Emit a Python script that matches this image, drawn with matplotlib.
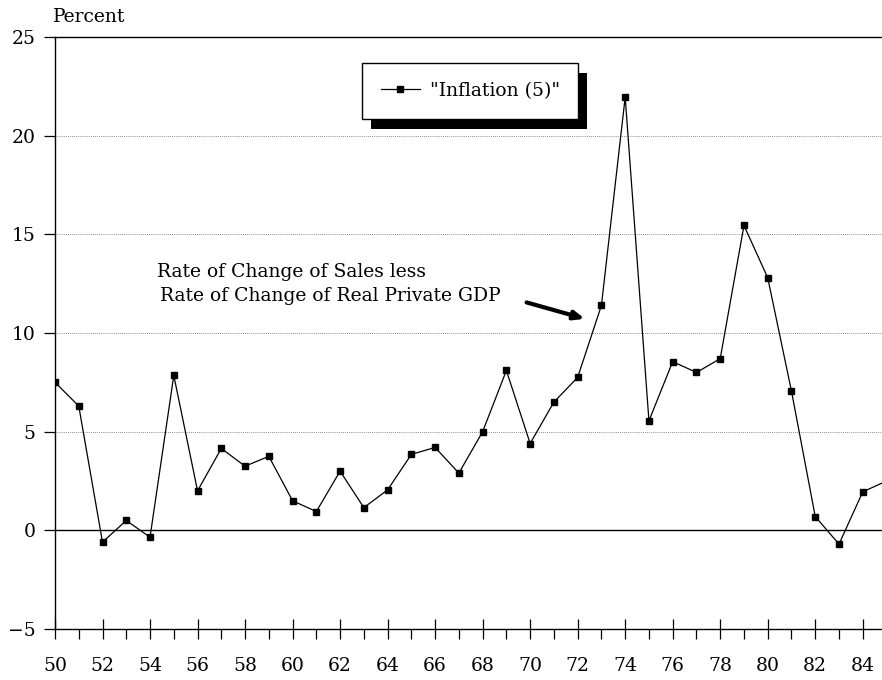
import numpy as np
import matplotlib.pyplot as plt
from matplotlib.patches import Rectangle
from matplotlib.ticker import MultipleLocator

# Inflation (5): rate of change of sales less rate of change of real private GDP
years = np.arange(50, 86)
inflation = [7.5, 6.3, -0.6, 0.5, -0.35, 7.85, 2.0, 4.15, 3.25, 3.75,
             1.5, 0.95, 3.0, 1.15, 2.05, 3.85, 4.2, 2.9, 5.0, 8.1,
             4.4, 6.5, 7.75, 11.4, 21.95, 5.55, 8.55, 8.0, 8.7, 15.45,
             12.8, 7.05, 0.7, -0.7, 1.95, 2.5]

y_ticks = [-5, 0, 5, 10, 15, 20, 25]
x_ticks = list(range(50, 86, 2))
grid_levels = [5, 10, 15, 20]

plt.rcParams['font.family'] = 'DejaVu Serif'
fs = 13.5

fig = plt.figure(figsize=(8.82, 6.8), dpi=100)
ax = fig.add_axes([55 / 882, 51 / 680, 827 / 882, 592 / 680])

# dotted grid + solid zero line
for g in grid_levels:
    ax.axhline(g, color='#666666', lw=0.6, ls=(0, (1, 1.5)), zorder=1)
ax.axhline(0, color='black', lw=1.0, zorder=1)

line, = ax.plot(years, inflation, color='black', lw=0.9, marker='s',
                markersize=4, zorder=3)

ax.set_xlim(50, 84.81)
ax.set_ylim(-5, 25)
ax.set_yticks(y_ticks)
ax.set_yticklabels([str(v).replace('-', '\u2212') for v in y_ticks])
ax.set_xticks(x_ticks)
ax.xaxis.set_minor_locator(MultipleLocator(1))

ax.spines['right'].set_visible(False)
for s in ['left', 'top', 'bottom']:
    ax.spines[s].set_linewidth(1.0)

ax.tick_params(axis='x', which='major', direction='inout', length=14,
               width=0.9, labelsize=fs, pad=13.5)
ax.tick_params(axis='x', which='minor', direction='out', length=7, width=0.9)
ax.tick_params(axis='y', direction='out', length=8, width=0.9,
               labelsize=fs, pad=6)

fig.text(53 / 882, 1 - 17 / 680, 'Percent', fontsize=fs, va='center', ha='left')

ax.text(54.29, 13.07, 'Rate of Change of Sales less', fontsize=fs, va='center')
ax.text(54.42, 11.85, 'Rate of Change of Real Private GDP', fontsize=fs, va='center')
ax.annotate('', xy=(72.3, 10.72), xytext=(69.85, 11.55),
            arrowprops=dict(arrowstyle='-|>,head_length=0.6,head_width=0.25',
                            color='black', lw=3, shrinkA=0, shrinkB=0))

leg = ax.legend([line], ['"Inflation (5)"'], loc='upper left',
                bbox_to_anchor=(362 / 882, 1 - 63 / 680),
                bbox_transform=fig.transFigure, borderaxespad=0,
                fancybox=False, framealpha=1, edgecolor='black',
                fontsize=fs, handlelength=2.1, handletextpad=0.5, borderpad=1.0)
leg.get_frame().set_linewidth(1.0)
leg.set_zorder(6)

# black drop shadow behind the legend box
fig.canvas.draw()
bb = leg.get_window_extent()
shadow = Rectangle((bb.x0 + 9, bb.y0 - 10), bb.width, bb.height,
                   transform=None, facecolor='black', edgecolor='none', zorder=5)
ax.add_artist(shadow)

fig.savefig('out.png', dpi=100)
